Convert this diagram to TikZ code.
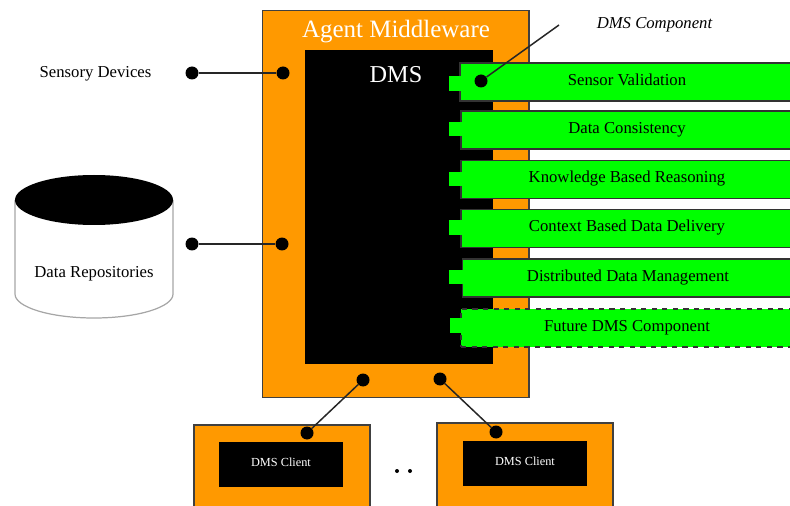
\documentclass[tikz,border=0pt]{standalone}
\usepackage{fontspec}
\setmainfont{Liberation Serif}
\usepackage{xcolor}
\definecolor{agentorange}{HTML}{FF9900}
\definecolor{compgreen}{HTML}{00FF00}
\tikzset{
 panel/.style={draw=black!75,line width=0.6pt,fill=agentorange,inner sep=0pt,outer sep=0pt},
 blackbox/.style={fill=black,text=white,inner sep=0pt,outer sep=0pt},
 compbar/.style={draw=black!80,line width=0.7pt,fill=compgreen,inner sep=0pt,outer sep=0pt,minimum height=0.76cm,text height=6.3pt,text depth=2.5pt,font=\fontsize{9.5}{11}\selectfont},
 comptab/.style={fill=compgreen,inner sep=0pt,outer sep=0pt,minimum width=0.3cm,minimum height=0.29cm},
 dot/.style={circle,fill=black,inner sep=0pt,minimum size=0.26cm},
 link/.style={line width=0.85pt,black!85},
 plain/.style={inner sep=0pt,font=\fontsize{9.5}{11}\selectfont}
}
\begin{document}
\begin{tikzpicture}[x=0.02cm,y=-0.02cm]
\useasboundingbox (0,0) rectangle (790,506);
\clip (0,0) rectangle (790,506);

\node [panel,minimum width=5.34cm,minimum height=7.76cm] (agent) at (395.5,204) {};
\node [blackbox,minimum width=3.76cm,minimum height=6.28cm] (dms) at (399,207) {};
\node [text=white,inner sep=0pt,font=\fontsize{14.2}{16}\selectfont] (agenttitle) at (396,32) {Agent Middleware};
\node [text=white,inner sep=0pt,font=\fontsize{13.8}{16}\selectfont] (dmstitle) at (396,75) {DMS};

\node [compbar,minimum width=6.68cm] (sensor) at (627,82) {Sensor Validation};
\node [compbar,minimum width=6.64cm] (consistency) at (627,130) {Data Consistency};
\node [compbar,minimum width=6.64cm] (reasoning) at (627,179.5) {Knowledge Based Reasoning};
\node [compbar,minimum width=6.64cm] (delivery) at (627,228.5) {Context Based Data Delivery};
\node [compbar,minimum width=6.62cm] (distributed) at (628,278) {Distributed Data Management};
\node [compbar,dashed,minimum width=6.64cm] (future) at (627,328) {Future DMS Component};

\node [comptab] (tab1) at (456,83.5) {};
\node [comptab] (tab2) at (456,129) {};
\node [comptab] (tab3) at (456,179) {};
\node [comptab] (tab4) at (456,227.5) {};
\node [comptab] (tab5) at (456,277) {};
\node [comptab] (tab6) at (457,325.5) {};

% sources on the left
\node [plain] (sensory) at (95.5,74) {Sensory Devices};
\draw [line width=0.7pt,black!35] (15,200)--(15,294) arc[start angle=180,end angle=0,x radius=79,y radius=24]--(173,200);
\fill (94,200) ellipse [x radius=79,y radius=25];
\node [plain] (repos) at (94,274) {Data Repositories};

\node [dot] (s1) at (192,73) {};
\node [dot] (s2) at (283,73) {};
\node [dot] (r1) at (192,244) {};
\node [dot] (r2) at (282,244) {};
\draw [link] (s1)--(s2);
\draw [link] (r1)--(r2);

% callout
\coordinate (calltop) at (559,25);
\node [dot] (call) at (481,81) {};
\draw [link] (call)--(calltop);
\node [inner sep=0pt,font=\fontsize{9.5}{11}\selectfont\itshape] (calllabel) at (654.5,25) {DMS Component};

% clients
\node [panel,minimum width=3.52cm,minimum height=1.84cm] (clientA) at (282,471) {};
\node [panel,minimum width=3.52cm,minimum height=1.88cm] (clientB) at (525,470) {};
\node [blackbox,minimum width=2.48cm,minimum height=0.9cm,text height=5pt,text depth=2.6pt,font=\fontsize{7}{8}\selectfont] (dmsA) at (281,464.5) {DMS Client};
\node [blackbox,minimum width=2.48cm,minimum height=0.9cm,text height=5pt,text depth=2.6pt,font=\fontsize{7}{8}\selectfont] (dmsB) at (525,463.5) {DMS Client};

\node [dot] (a1) at (363,380) {};
\node [dot] (a2) at (440,379) {};
\node [dot] (c1) at (307,433) {};
\node [dot] (c2) at (496,432) {};
\draw [link] (a1)--(c1);
\draw [link] (a2)--(c2);

\node [circle,fill=black,inner sep=0pt,minimum size=0.08cm] (more1) at (397,471) {};
\node [circle,fill=black,inner sep=0pt,minimum size=0.08cm] (more2) at (410,471) {};
\end{tikzpicture}
\end{document}
